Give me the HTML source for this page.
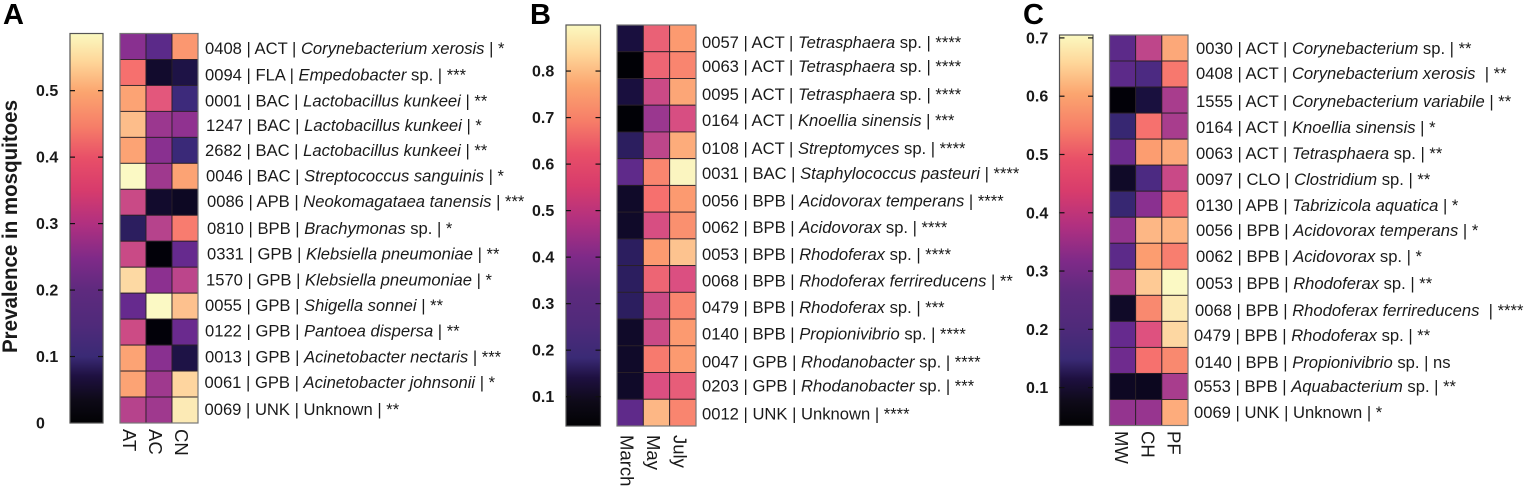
<!DOCTYPE html>
<html lang="en">
<head>
<meta charset="utf-8">
<title>Prevalence in mosquitoes heatmaps</title>
<style>
html,body{margin:0;padding:0;background:#fff;width:1525px;height:486px;overflow:hidden}
svg{display:block;font-family:"Liberation Sans",sans-serif;filter:blur(.35px)}
</style>
</head>
<body>
<svg id="chart" xmlns="http://www.w3.org/2000/svg" width="1525" height="486" viewBox="0 0 1525 486">
<defs id="defs"></defs>
<text transform="translate(17,353) rotate(-90)" font-size="21" font-weight="700" fill="#1a1a1a" textLength="253" lengthAdjust="spacingAndGlyphs">Prevalence in mosquitoes</text>
</svg>
<script>
// ---------- Data ----------
const magmaStops = ["#000004","#1a1040","#3b2a7a","#672a8e","#8c3090","#b8448c","#dd5080","#f6706e","#fc9e70","#fed09a","#fbf9c4"];

const columnsA = ["AT","AC","CN"];
const ticksA = [0,0.1,0.2,0.3,0.4,0.5];
const tickLabelsA = ["0","0.1","0.2","0.3","0.4","0.5"];
const domainA = [0,0.586];
const valuesA = [
 [0.23,0.16,0.46],[0.41,0.04,0.065],[0.475,0.365,0.12],[0.505,0.255,0.24],[0.475,0.23,0.115],
 [0.586,0.26,0.475],[0.32,0.04,0.03],[0.09,0.29,0.425],[0.32,0.005,0.175],[0.54,0.235,0.30],
 [0.175,0.586,0.51],[0.325,0.005,0.18],[0.475,0.23,0.065],[0.475,0.26,0.535],[0.29,0.26,0.565]
];
const rowsA = [
 ["0408","ACT","Corynebacterium xerosis","*"],["0094","FLA","Empedobacter sp.","***"],
 ["0001","BAC","Lactobacillus kunkeei","**"],["1247","BAC","Lactobacillus kunkeei","*"],
 ["2682","BAC","Lactobacillus kunkeei","**"],["0046","BAC","Streptococcus sanguinis","*"],
 ["0086","APB","Neokomagataea tanensis","***"],["0810","BPB","Brachymonas sp.","*"],
 ["0331","GPB","Klebsiella pneumoniae","**"],["1570","GPB","Klebsiella pneumoniae","*"],
 ["0055","GPB","Shigella sonnei","**"],["0122","GPB","Pantoea dispersa","**"],
 ["0013","GPB","Acinetobacter nectaris","***"],["0061","GPB","Acinetobacter johnsonii","*"],
 ["0069","UNK","Unknown","**"]
];

const columnsB = ["March","May","July"];
const ticksB = [0.1,0.2,0.3,0.4,0.5,0.6,0.7,0.8];
const tickLabelsB = ["0.1","0.2","0.3","0.4","0.5","0.6","0.7","0.8"];
const domainB = [0.037,0.899];
const valuesB = [
 [0.12,0.60,0.72],[0.04,0.61,0.68],[0.12,0.51,0.74],[0.04,0.41,0.54],[0.17,0.48,0.75],
 [0.28,0.68,0.89],[0.09,0.64,0.72],[0.09,0.54,0.70],[0.17,0.72,0.79],[0.17,0.61,0.55],
 [0.17,0.51,0.68],[0.09,0.51,0.72],[0.09,0.66,0.72],[0.09,0.55,0.59],[0.28,0.77,0.68]
];
const rowsB = [
 ["0057","ACT","Tetrasphaera sp.","****"],["0063","ACT","Tetrasphaera sp.","****"],
 ["0095","ACT","Tetrasphaera sp.","****"],["0164","ACT","Knoellia sinensis","***"],
 ["0108","ACT","Streptomyces sp.","****"],["0031","BAC","Staphylococcus pasteuri","****"],
 ["0056","BPB","Acidovorax temperans","****"],["0062","BPB","Acidovorax sp.","****"],
 ["0053","BPB","Rhodoferax sp.","****"],["0068","BPB","Rhodoferax ferrireducens","**"],
 ["0479","BPB","Rhodoferax sp.","***"],["0140","BPB","Propionivibrio sp.","****"],
 ["0047","GPB","Rhodanobacter sp.","****"],["0203","GPB","Rhodanobacter sp.","***"],
 ["0012","UNK","Unknown","****"]
];

const columnsC = ["MW","CH","PF"];
const ticksC = [0.1,0.2,0.3,0.4,0.5,0.6,0.7];
const tickLabelsC = ["0.1","0.2","0.3","0.4","0.5","0.6","0.7"];
const domainC = [0.035,0.705];
const valuesC = [
 [0.22,0.38,0.585],[0.22,0.195,0.515],[0.04,0.10,0.345],[0.16,0.505,0.345],[0.245,0.57,0.585],
 [0.075,0.195,0.40],[0.16,0.30,0.485],[0.315,0.605,0.60],[0.22,0.57,0.525],[0.35,0.63,0.705],
 [0.075,0.54,0.68],[0.235,0.44,0.65],[0.25,0.505,0.54],[0.07,0.065,0.345],[0.315,0.32,0.59]
];
const rowsC = [
 ["0030","ACT","Corynebacterium sp.","**"],["0408","ACT","Corynebacterium xerosis ","**"],
 ["1555","ACT","Corynebacterium variabile","**"],["0164","ACT","Knoellia sinensis","*"],
 ["0063","ACT","Tetrasphaera sp.","**"],["0097","CLO","Clostridium sp.","**"],
 ["0130","APB","Tabrizicola aquatica","*"],["0056","BPB","Acidovorax temperans","*"],
 ["0062","BPB","Acidovorax sp.","*"],["0053","BPB","Rhodoferax sp.","**"],
 ["0068","BPB","Rhodoferax ferrireducens ","****"],["0479","BPB","Rhodoferax sp.","**"],
 ["0140","BPB","Propionivibrio sp.","ns"],["0553","BPB","Aquabacterium sp.","**"],
 ["0069","UNK","Unknown","*"]
];

// ---------- Layout and styling (not data) ----------
const barGradient = [[0,"#020204"],[0.06,"#0e0a18"],[0.12,"#1e1040"],[0.17,"#3a2a75"],[0.25,"#4f2a7a"],[0.34,"#5e2a7e"],[0.42,"#7e2a88"],[0.51,"#b03080"],[0.6,"#d83c6c"],[0.68,"#e84f68"],[0.76,"#f67d68"],[0.85,"#fba56f"],[0.93,"#fed79a"],[1,"#fbf9c0"]];

const panels = [
 {key:"a",title:"A",titleX:3,titleY:24,domain:domainA,ticks:ticksA,tickLabels:tickLabelsA,values:valuesA,rows:rowsA,columns:columnsA,
  barX:70,barW:33,top:33.5,bottom:423,heatX:120,heatW:78,tickLabelX:36,labelX:205,labelTop:48,labelStep:25.7,
  labelDx:[0,0,0,1,0,1,2,2,2,1,0,0,0,-0.5,-0.5],labelDy:[0,1,1,0,-1,-1,-1,0,0,0,0,0,0,0,1],colBase:-10,colY:429},
 {key:"b",title:"B",titleX:530,titleY:24,domain:domainB,ticks:ticksB,tickLabels:tickLabelsB,values:valuesB,rows:rowsB,columns:columnsB,
  barX:566,barW:34.5,top:25,bottom:426,heatX:617,heatW:79,tickLabelX:532,labelX:702,labelTop:41,labelStep:26.6,
  labelDx:[0,0,0,0,0,0,0,0,0,0,0,0,0,0,0],labelDy:[1,-1.5,0,-1,0.5,-1,0,0,0,0,0,0,1.5,-1.5,0],colBase:-9.5,colY:435},
 {key:"c",title:"C",titleX:1023,titleY:24,domain:domainC,ticks:ticksC,tickLabels:tickLabelsC,values:valuesC,rows:rowsC,columns:columnsC,
  barX:1059.5,barW:33.5,top:35,bottom:425.5,heatX:1109.5,heatW:78.5,tickLabelX:1026,labelX:1196,labelTop:48,labelStep:26,
  labelDx:[0,0,0,0,0,0,0,0,0,0,-1,-2,-1,-2,-2],labelDy:[0,-1,1,1,1,1,1,0,0,1,2,1,2,0,0],colBase:-7.5,colY:431}
];

// ---------- Helpers ----------
const NS = "http://www.w3.org/2000/svg";
const svg = document.getElementById("chart");
const defs = document.getElementById("defs");
function make(tag, parent, props){
  const el = document.createElementNS(NS, tag);
  for (const k in props) el.setAttribute(k, props[k]);
  parent.appendChild(el);
  return el;
}
function hexRgb(h){ return [1,3,5].map(i => parseInt(h.substr(i,2),16)); }
function colorAt(t){
  const c = Math.max(0, Math.min(1, t)) * (magmaStops.length - 1);
  const i = Math.min(Math.floor(c), magmaStops.length - 2);
  const f = c - i, a = hexRgb(magmaStops[i]), b = hexRgb(magmaStops[i+1]);
  return "rgb(" + a.map((v,j) => Math.round(v + (b[j]-v)*f)).join(",") + ")";
}

// ---------- Shared colour-bar gradient ----------
const grad = make("linearGradient", defs, {id:"magma", x1:0, y1:1, x2:0, y2:0});
barGradient.forEach(s => {
  make("stop", grad, {offset: s[0], "stop-color": s[1]});
});

// ---------- Drawing ----------
panels.forEach(p => {
  const g = make("g", svg, {});
  
  

  const span = p.domain[1] - p.domain[0];
  const yScale = v => p.bottom - (v - p.domain[0]) / span * (p.bottom - p.top);
  const colorScale = v => colorAt((v - p.domain[0]) / span);
  const cellW = p.heatW / p.columns.length;
  const cellH = (p.bottom - p.top) / p.rows.length;

  const title = make("text", g, {x:p.titleX, y:p.titleY, "font-size":29, "font-weight":700, fill:"#000"});
  title.textContent = p.title;
  
  

  // colour bar
  const bar = make("rect", g, {x:p.barX, y:p.top, width:p.barW, height:p.bottom-p.top, fill:"url(#magma)", stroke:"#555", "stroke-width":1.2});
  
  

  p.ticks.forEach((v,i) => {
    const y = yScale(v);
    if (v > p.domain[0] + 0.005) {
      const t1 = make("line", g, {x1:p.barX, x2:p.barX+5, y1:y, y2:y, stroke:"#111", "stroke-width":1.2});
      
      
      const t2 = make("line", g, {x1:p.barX+p.barW-5, x2:p.barX+p.barW, y1:y, y2:y, stroke:"#111", "stroke-width":1.2});
      
      
    }
    const lab = make("text", g, {x:p.tickLabelX, y:y+5.5, "font-size":16, "font-weight":700, fill:"#1a1a1a"});
    lab.textContent = p.tickLabels[i];
    
    
  });

  // heatmap cells
  p.values.forEach((row,r) => {
    row.forEach((v,c) => {
      const cell = make("rect", g, {x:p.heatX+c*cellW, y:p.top+r*cellH, width:cellW, height:cellH, fill:colorScale(v), stroke:"#2a2028", "stroke-width":0.9});
      
      
    });
  });
  const frame = make("rect", g, {x:p.heatX, y:p.top, width:p.heatW, height:p.bottom-p.top, fill:"none", stroke:"#777", "stroke-width":1.2});
  
  

  // column labels
  p.columns.forEach((name,c) => {
    const x = p.heatX + (c + 0.5) * cellW + p.colBase;
    const lab = make("text", g, {transform:"translate(" + x + "," + p.colY + ") rotate(90)", "font-size":18.5, fill:"#1a1a1a"});
    lab.textContent = name;
    
    
  });

  // row labels
  p.rows.forEach((row,r) => {
    const y = p.labelTop + r * p.labelStep + 6 + p.labelDy[r];
    const lab = make("text", g, {x:p.labelX + p.labelDx[r], y:y, "font-size":16.6, fill:"#1a1a1a"});
    
    
    lab.style.whiteSpace = "pre";
    make("tspan", lab, {}).textContent = row[0] + " | " + row[1] + " | ";
    const name = row[2];
    const sp = name.endsWith(" sp.");
    if (name === "Unknown") {
      make("tspan", lab, {}).textContent = name;
    } else {
      make("tspan", lab, {"font-style":"italic"}).textContent = sp ? name.slice(0,-4) : name;
      if (sp) make("tspan", lab, {}).textContent = " sp.";
    }
    make("tspan", lab, {}).textContent = " | " + row[3];
  });
});
</script>
</body>
</html>
